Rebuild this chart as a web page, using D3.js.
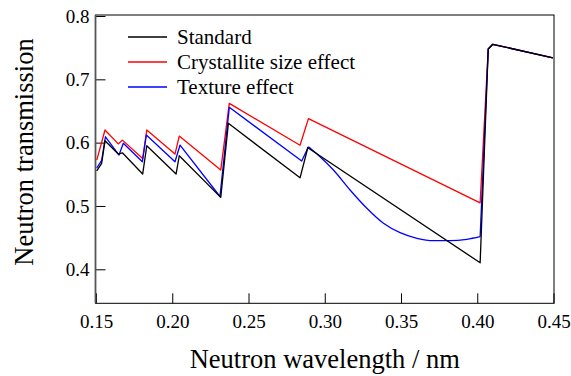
<!DOCTYPE html>
<html>
<head>
<meta charset="utf-8">
<script src="https://cdn.jsdelivr.net/npm/d3@7"></script>
<style>
  html, body { margin: 0; padding: 0; background: #fff; }
</style>
</head>
<body>
<div id="chart"></div>
<script>
// wavelength (nm) / transmission pairs
const standardX = [0.1505, 0.1537, 0.1559, 0.1646, 0.1673, 0.1806, 0.1833, 0.2025, 0.2046, 0.2318, 0.2368, 0.2838, 0.2889, 0.4019, 0.4072, 0.4102, 0.4496];
const standardY = [0.5556, 0.5673, 0.603, 0.582, 0.584, 0.5504, 0.5951, 0.5504, 0.5793, 0.5136, 0.6305, 0.5445, 0.592, 0.4103, 0.748, 0.7553, 0.734];

const crystalX = [0.1505, 0.1559, 0.1646, 0.1673, 0.1806, 0.1833, 0.2018, 0.2046, 0.2318, 0.2374, 0.2838, 0.2893, 0.4019, 0.4072, 0.4102, 0.4496];
const crystalY = [0.5725, 0.62, 0.598, 0.604, 0.575, 0.62, 0.582, 0.6104, 0.5567, 0.662, 0.596, 0.638, 0.505, 0.748, 0.7553, 0.734];

// texture effect: sawtooth part, smooth dip, then the final edge
const textureX = [0.1505, 0.1537, 0.1562, 0.1651, 0.1679, 0.1804, 0.183, 0.2018, 0.2051, 0.2313, 0.2374, 0.2849, 0.2893];
const textureY = [0.56, 0.572, 0.6093, 0.5804, 0.599, 0.5698, 0.612, 0.5698, 0.5962, 0.515, 0.6558, 0.5709, 0.5935];
const textureDipX = [0.2893, 0.2969, 0.3057, 0.3166, 0.3276, 0.3385, 0.3494, 0.3604, 0.3713, 0.3822, 0.3932, 0.4019];
const textureDipY = [0.5935, 0.5778, 0.5568, 0.5253, 0.4964, 0.4727, 0.4578, 0.449, 0.4452, 0.4452, 0.4474, 0.4515];
const textureEdgeX = [0.4019, 0.4072, 0.4102, 0.4496];
const textureEdgeY = [0.4515, 0.748, 0.7553, 0.734];

const xTicks = [0.15, 0.20, 0.25, 0.30, 0.35, 0.40, 0.45];
const yTicks = [0.4, 0.5, 0.6, 0.7, 0.8];

const seriesNames = ["Standard", "Crystallite size effect", "Texture effect"];
const seriesColors = ["#000000", "#ff0000", "#0000ff"];

const serif = "'Liberation Serif', 'Times New Roman', Times, 'DejaVu Serif', serif";

let width = 571, height = 376;
let plotLeft = 95.5, plotRight = 554, plotTop = 15, plotBottom = 303.3;

let svg = d3.select("#chart").append("svg")
  .attr("width", width)
  .attr("height", height)
  .attr("font-family", serif);

let x = d3.scaleLinear().domain([0.15, 0.45]).range([plotLeft + 0.5, plotRight - 0.5]);
let y = d3.scaleLinear().domain([0.3463, 0.8016]).range([plotBottom, plotTop]);

// frame
svg.append("rect")
  .attr("x", plotLeft).attr("y", plotTop)
  .attr("width", plotRight - plotLeft).attr("height", plotBottom - plotTop)
  .attr("fill", "none").attr("stroke", "#000").attr("stroke-width", 1);

// axes, ticks pointing inward
let xAxis = svg.append("g")
  .attr("transform", "translate(0," + plotBottom + ")")
  .call(d3.axisBottom(x).tickValues(xTicks).tickFormat(d3.format(".2f"))
    .tickSizeInner(-10).tickSizeOuter(0).tickPadding(11));
xAxis.attr("font-family", serif).attr("font-size", 19);
xAxis.select(".domain").remove();
xAxis.selectAll("text").attr("font-family", serif).attr("font-size", 19).attr("dy", "0.71em");

let yAxis = svg.append("g")
  .attr("transform", "translate(" + plotLeft + ",0)")
  .call(d3.axisLeft(y).tickValues(yTicks).tickFormat(d3.format(".1f"))
    .tickSizeInner(-10).tickSizeOuter(0).tickPadding(6));
yAxis.attr("font-family", serif).attr("font-size", 19);
yAxis.select(".domain").remove();
yAxis.selectAll("text").attr("font-family", serif).attr("font-size", 19);

// left spine a bit heavier and grey
svg.append("line")
  .attr("x1", plotLeft).attr("x2", plotLeft)
  .attr("y1", plotTop).attr("y2", plotBottom)
  .attr("stroke", "#555").attr("stroke-width", 1.8);

// lines
let line = d3.line().x(d => x(d[0])).y(d => y(d[1]));
let smooth = d3.line().x(d => x(d[0])).y(d => y(d[1])).curve(d3.curveMonotoneX);

function drawPath(xs, ys, color, gen) {
  svg.append("path")
    .datum(d3.zip(xs, ys))
    .attr("fill", "none")
    .attr("stroke", color)
    .attr("stroke-width", 1.3)
    .attr("stroke-linejoin", "round")
    .attr("d", gen);
}

drawPath(crystalX, crystalY, seriesColors[1], line);
drawPath(textureX, textureY, seriesColors[2], line);
drawPath(textureDipX, textureDipY, seriesColors[2], smooth);
drawPath(textureEdgeX, textureEdgeY, seriesColors[2], line);
drawPath(standardX, standardY, seriesColors[0], line);

// legend
let legend = svg.append("g").attr("transform", "translate(128,37)");
seriesNames.forEach((n, i) => {
  let g = legend.append("g").attr("transform", "translate(0," + i * 25 + ")");
  g.append("line").attr("x1", 0).attr("x2", 39).attr("y1", 0).attr("y2", 0)
    .attr("stroke", seriesColors[i]).attr("stroke-width", 1.3);
  g.append("text").attr("x", 49).attr("y", 6.5)
    .attr("font-family", serif).attr("font-size", 21).text(n);
});

// axis titles
svg.append("text")
  .attr("x", (plotLeft + plotRight) / 2).attr("y", 368)
  .attr("text-anchor", "middle")
  .attr("font-family", serif).attr("font-size", 26.5)
  .text("Neutron wavelength / nm");

svg.append("text")
  .attr("transform", "translate(33,152) rotate(-90)")
  .attr("text-anchor", "middle")
  .attr("font-family", serif).attr("font-size", 26.5)
  .text("Neutron transmission");
</script>
</body>
</html>
